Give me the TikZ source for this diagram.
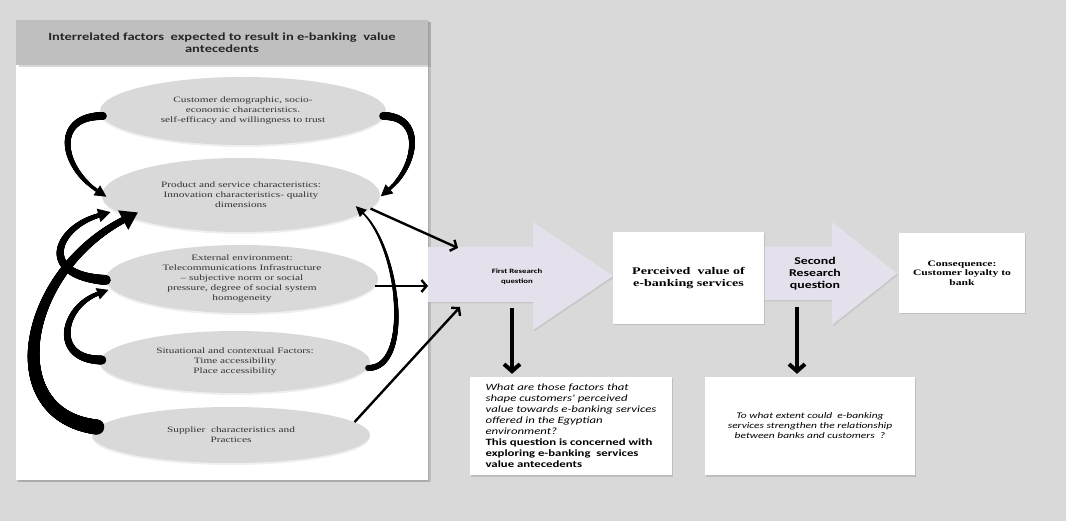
\documentclass[tikz,border=0pt]{standalone}
\usepackage{fontspec}
\setmainfont{Liberation Serif}[FakeStretch=1.38]
\newfontfamily\calib{Carlito}[FakeStretch=1.33]
\usetikzlibrary{shapes.geometric, arrows.meta}
\usetikzlibrary{decorations.markings, shadows}
\usetikzlibrary{positioning}
\usetikzlibrary{calc}

\definecolor{bggray}{HTML}{D9D9D9}
\definecolor{hdrgray}{HTML}{BFBFBF}
\definecolor{lilac}{HTML}{E4E0EC}

% tapered curved arrow: start width, end width, head length, head half width
\tikzset{
  fatcurve/.style n args={4}{decorate, decoration={markings,
      mark=between positions 0 and -#3pt step 0.4pt with {%
        \pgfmathsetmacro\rr{0.5*(#1+(#2-#1)*\pgfkeysvalueof{/pgf/decoration/mark info/distance from start}/\pgfdecoratedpathlength)}%
        \fill (0,0) circle (\rr pt);},
      mark=at position -#3pt with {\fill (-0.5pt,#4pt) -- (#3pt,0pt) -- (-0.5pt,-#4pt) -- cycle;}}}
}

\begin{document}
\begin{tikzpicture}[x=1pt, y=-1pt,
    factor/.style={ellipse, fill=bggray, text=black!80, align=center, inner sep=0pt,
      font=\fontsize{8.2}{10}\selectfont,
      drop shadow={opacity=0.12, shadow xshift=0pt, shadow yshift=-2pt}},
    whitebox/.style={rectangle, fill=white, align=center,
      drop shadow={opacity=0.3, shadow xshift=1pt, shadow yshift=-1.5pt}},
    rqshape/.style={fill=lilac, drop shadow={opacity=0.2, shadow xshift=1pt, shadow yshift=-1.5pt}},
    feedarr/.style={line width=2.4pt, -{Straight Barb[length=5pt,width=12pt]}},
    downarr/.style={line width=4pt, shorten >=3pt, -{Straight Barb[length=7pt,width=16pt]}}]

  \useasboundingbox (0,0) rectangle (1066,521);
  \fill[bggray] (0,0) rectangle (1066,521);

  % left panel with its header
  \node[whitebox, minimum width=412pt, minimum height=460pt,
    drop shadow={opacity=0.3, shadow xshift=3pt, shadow yshift=-2pt}] (panel) at (222,250) {};
  \node[rectangle, fill=hdrgray, minimum width=412pt, minimum height=45pt, align=center,
    text=black!85, font=\calib\bfseries\fontsize{10.9}{12.3}\selectfont,
    drop shadow={opacity=0.3, shadow xshift=3pt, shadow yshift=-2pt}] (hdr) at (222,42.5)
    {Interrelated factors\ \ expected to result in e-banking\ \ value\\antecedents};

  % the factors
  \node[factor, minimum width=286pt, minimum height=68pt] (cust) at (243,111)
    {Customer demographic, socio-\\economic characteristics.\\self-efficacy and willingness to trust};
  \node[factor, minimum width=278pt, minimum height=74pt] (prod) at (241,195)
    {Product and service characteristics:\\Innovation characteristics- quality\\dimensions};
  \node[factor, minimum width=272pt, minimum height=68pt] (ext) at (242,279)
    {External environment:\\Telecommunications Infrastructure\\-- subjective norm or social\\pressure, degree of social system\\homogeneity};
  \node[factor, minimum width=270pt, minimum height=62pt] (sit) at (235,362)
    {Situational and contextual Factors:\\Time accessibility\\Place accessibility};
  \node[factor, minimum width=278pt, minimum height=56pt] (sup) at (231,435)
    {Supplier\ \ characteristics and\\Practices};

  % curved links between the factors
  \path[fatcurve={8}{3}{11}{6}] ($(cust.west)+(3,5)$) .. controls +(-55,0) and +(-43,-20) .. ($(prod.west)+(5,1)$);
  \path[fatcurve={8}{3}{11}{6}] ($(cust.east)+(-3,5)$) .. controls +(45,0) and +(35,-20) .. ($(prod.east)+(0,0.5)$);
  \path[fatcurve={10}{4}{12}{7}] ($(ext.west)+(0,1)$) .. controls +(-75,-5) and +(-51,6) .. ($(prod.west)+(9,18)$);
  \path[fatcurve={15}{6}{16}{11}] ($(sup.west)+(5,-8)$) .. controls +(-102,-12) and +(-111,49) .. ($(prod.west)+(32,20)$);
  \path[fatcurve={9}{3.5}{11}{6}] ($(sit.west)+(2,-2)$) .. controls +(-55,0) and +(-45,6) .. ($(ext.west)+(3,12)$);
  \path[fatcurve={6}{1.5}{10}{5}] ($(sit.east)+(-2,6)$) .. controls +(47,0) and +(41,27) .. ($(prod.east)+(-23.5,13)$);

  % research question arrows
  \fill[rqshape] (428,247) -- (533,247) -- (533,222) -- (613,276) -- (533,330) -- (533,302) -- (428,302) -- cycle;
  \node[align=center, font=\calib\bfseries\fontsize{6.6}{10.5}\selectfont] (rq1) at (517,276.5)
    {First Research\\question};
  \fill[rqshape] (763,247) -- (832,247) -- (832,222) -- (897,273.5) -- (832,325) -- (832,300) -- (763,300) -- cycle;
  \node[align=center, font=\calib\bfseries\fontsize{10.4}{12}\selectfont] (rq2) at (815,274)
    {Second\\Research\\question};

  \node[whitebox, minimum width=151pt, minimum height=92pt,
    font=\bfseries\fontsize{10.2}{12.7}\selectfont] (pv) at (688.5,278)
    {Perceived\ \ value of\\e-banking services};
  \node[whitebox, minimum width=126pt, minimum height=80pt,
    font=\bfseries\fontsize{8.4}{9.6}\selectfont] (cons) at (962,273)
    {Consequence:\\Customer loyalty to\\bank};

  \node[whitebox, align=left, minimum width=202pt, minimum height=98pt,
    font=\calib\fontsize{9.6}{11}\selectfont] (q1) at (571,426)
    {\itshape What are those factors that\\
     \itshape shape customers' perceived\\
     \itshape value towards e-banking services\\
     \itshape offered in the Egyptian\\
     \itshape environment?\\
     \bfseries This question is concerned with\\
     \bfseries exploring e-banking\ \ services\\
     \bfseries value antecedents};
  \node[whitebox, minimum width=210pt, minimum height=98pt,
    font=\calib\itshape\fontsize{8.6}{10}\selectfont] (q2) at (810,426)
    {To what extent could\ \ e-banking\\services strengthen the relationship\\between banks and customers\ \ ?};

  % arrows into the first question
  \coordinate (in1) at (458,248);
  \coordinate (tail1) at (428,276);
  \coordinate (in3) at (460,307);
  \draw[feedarr] (prod.-6) -- (in1);
  \draw[feedarr] (ext.-3) -- (ext.-3 -| tail1);
  \draw[feedarr] (sup.6) -- (in3);

  % arrows down to the question boxes
  \coordinate (d1) at (512,308);
  \coordinate (d2) at (797,307);
  \draw[downarr] (d1) -- (d1 |- q1.north);
  \draw[downarr] (d2) -- (d2 |- q2.north);
\end{tikzpicture}
\end{document}
